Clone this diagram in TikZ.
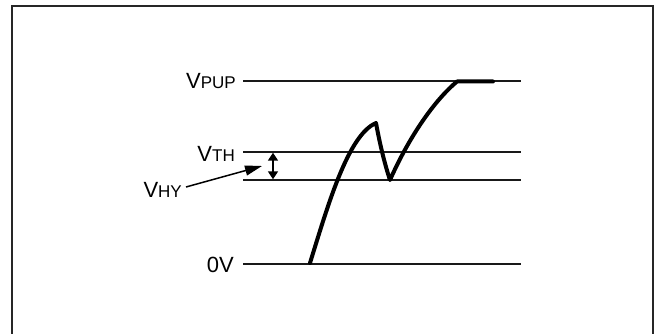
\documentclass[tikz,border=0pt]{standalone}
\usepackage{fontspec}
\setmainfont{Liberation Sans}
\usetikzlibrary{arrows.meta}
\begin{document}
\begin{tikzpicture}[x=1pt,y=-1pt,
  level/.style={line width=1.6pt, black!90},
  lbl/.style={inner sep=0pt, anchor=base east, font=\fontsize{22}{24}\selectfont},
  wave/.style={line width=4pt, line cap=round, line join=round},
  dimarrow/.style={line width=1.5pt, {Triangle[length=8pt,width=10pt]}-{Triangle[length=8pt,width=10pt]}},
  pointer/.style={line width=1.5pt, -{Triangle[length=17pt,width=10pt]}}]
\newcommand{\subtx}[1]{{\fontsize{17}{19}\selectfont #1}}
\useasboundingbox (0,0) rectangle (656,334);
\draw[line width=2pt, black!85] (12,360) -- (12,6) -- (652.5,6) -- (652.5,360);
% level lines
\coordinate (pupL) at (243,81);  \coordinate (pupR) at (521,81);
\coordinate (thL) at (243,152);  \coordinate (thR) at (521,152);
\coordinate (tlL) at (243,180);  \coordinate (tlR) at (521,180);
\coordinate (zL) at (243,264);   \coordinate (zR) at (521,264);
\draw[level] (pupL) -- (pupR);
\draw[level] (thL) -- (thR);
\draw[level] (tlL) -- (tlR);
\draw[level] (zL) -- (zR);
% labels
\node[lbl] (vpup) at (236,89) {V\subtx{PUP}};
\node[lbl] (vth) at (235,161) {V\subtx{TH}};
\node[lbl] (vhy) at (182,197) {V\subtx{HY}};
\node[lbl] (zero) at (234,272) {0V};
% hysteresis arrow
\coordinate (hyT) at (273,152.7);
\coordinate (hyB) at (273,179.3);
\draw[dimarrow] (hyT) -- (hyB);
\coordinate (ptrS) at (186,187);
\coordinate (ptrE) at (262,166);
\draw[pointer] (ptrS) -- (ptrE);
% waveform
\coordinate (w0) at (310,263);
\coordinate (w1) at (376,123);
\coordinate (w2) at (390,180);
\coordinate (w3) at (457,81.5);
\coordinate (w4) at (493,81.5);
\draw[wave] (w0) .. controls (328,205) and (348,135) .. (w1)
  .. controls (380,145) and (385,165) .. (w2)
  .. controls (410,135) and (435,100) .. (w3) -- (w4);
\end{tikzpicture}
\end{document}
